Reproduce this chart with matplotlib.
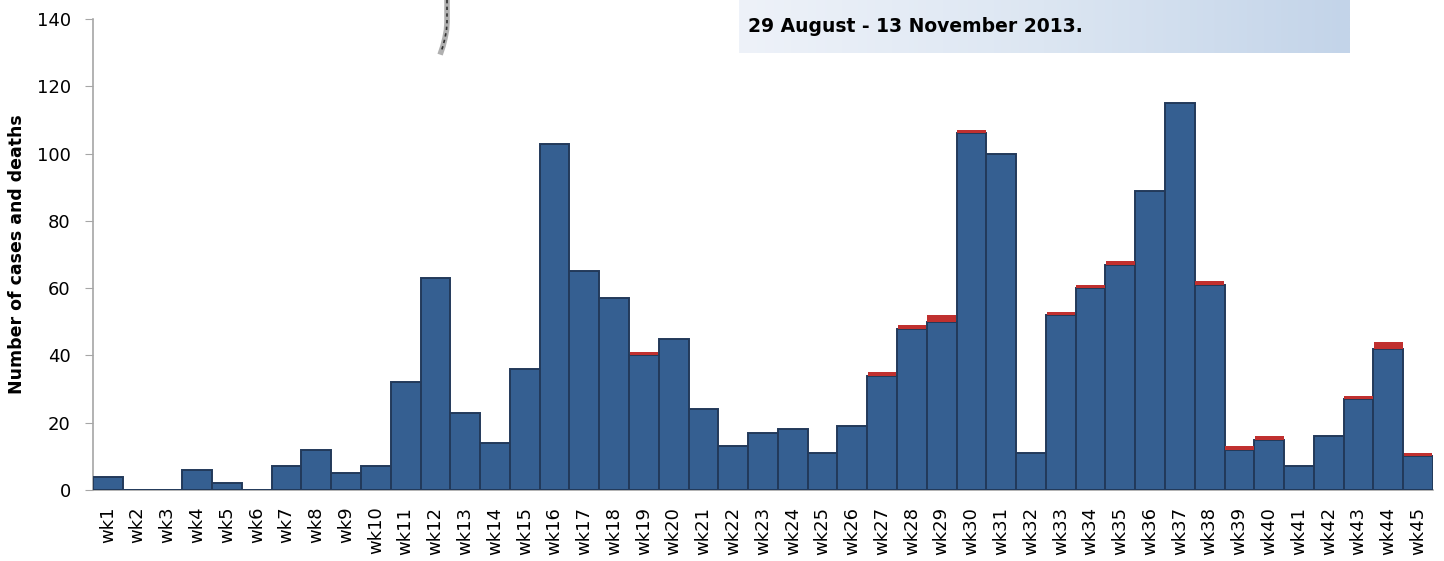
import matplotlib.pyplot as plt
import numpy as np
from matplotlib.colors import LinearSegmentedColormap

# weekly data
weeks = ['wk%d' % i for i in range(1, 46)]
cases = [4, 0, 0, 6, 2, 0, 7, 12, 5, 7, 32, 63, 23, 14, 36, 103, 65, 57, 40, 45,
         24, 13, 17, 18, 11, 19, 34, 48, 50, 106, 100, 11, 52, 60, 67, 89, 115, 61,
         12, 15, 7, 16, 27, 42, 10]
deaths = [0, 0, 0, 0, 0, 0, 0, 0, 0, 0, 0, 0, 0, 0, 0, 0, 0, 0, 1, 0,
          0, 0, 0, 0, 0, 0, 1, 1, 2, 1, 0, 0, 1, 1, 1, 0, 0, 1,
          1, 1, 0, 0, 1, 2, 1]
title_text = '29 August - 13 November 2013.'

fig = plt.figure(figsize=(14.44, 5.61), dpi=100)
ax = fig.add_axes([0.0644, 0.1266, 0.928, 0.8394])

x = np.arange(len(weeks))
ax.bar(x, cases, width=1.0, color='#355f91', edgecolor='#22395a', linewidth=1.4, zorder=3)
ax.bar(x, deaths, width=0.96, bottom=cases, color='#c0302f', edgecolor='none', zorder=3)

ax.set_xlim(-0.5, len(weeks) - 0.5)
ax.set_ylim(0, 140)
ax.set_yticks(np.arange(0, 141, 20))
ax.set_xticks(x)
ax.set_xticklabels(weeks, rotation=90)
ax.tick_params(axis='x', length=0, labelsize=13, pad=12)
ax.tick_params(axis='y', direction='out', length=6, color='#a6a6a6', labelsize=13, pad=10)
for s in ['top', 'right']:
    ax.spines[s].set_visible(False)
ax.spines['left'].set_color('#a6a6a6')
ax.spines['bottom'].set_color('#a6a6a6')
ax.spines['left'].set_linewidth(1.2)
ax.spines['bottom'].set_linewidth(1.2)
ax.set_ylabel('Number of cases and deaths', fontsize=12.5, fontweight='bold', labelpad=8)

# title box with gradient
tax = fig.add_axes([739 / 1444, 1 - 53 / 561, 610 / 1444, 53 / 561])
grad = np.linspace(0, 1, 256).reshape(1, -1)
cm = LinearSegmentedColormap.from_list('box', ['#eef2f9', '#dce6f2', '#c3d4e9'])
tax.imshow(grad, aspect='auto', cmap=cm, extent=[0, 1, 0, 1])
tax.set_axis_off()
fig.text(748 / 1444, 1 - 26 / 561, title_text, fontsize=13.5, fontweight='bold',
         va='center', ha='left', color='black')

# decorative curve at the top
cx = np.array([447, 447, 446.5, 445, 443, 441]) / 1444
cy = 1 - np.array([0, 22, 30, 38, 46, 52]) / 561
fig.add_artist(plt.Line2D(cx, cy, color='#b0b0b0', linewidth=4, transform=fig.transFigure))
fig.add_artist(plt.Line2D(cx, cy, color='#303030', linewidth=1.2, linestyle=(0, (2, 2)),
                          transform=fig.transFigure))

fig.savefig('out.png', dpi=100)
